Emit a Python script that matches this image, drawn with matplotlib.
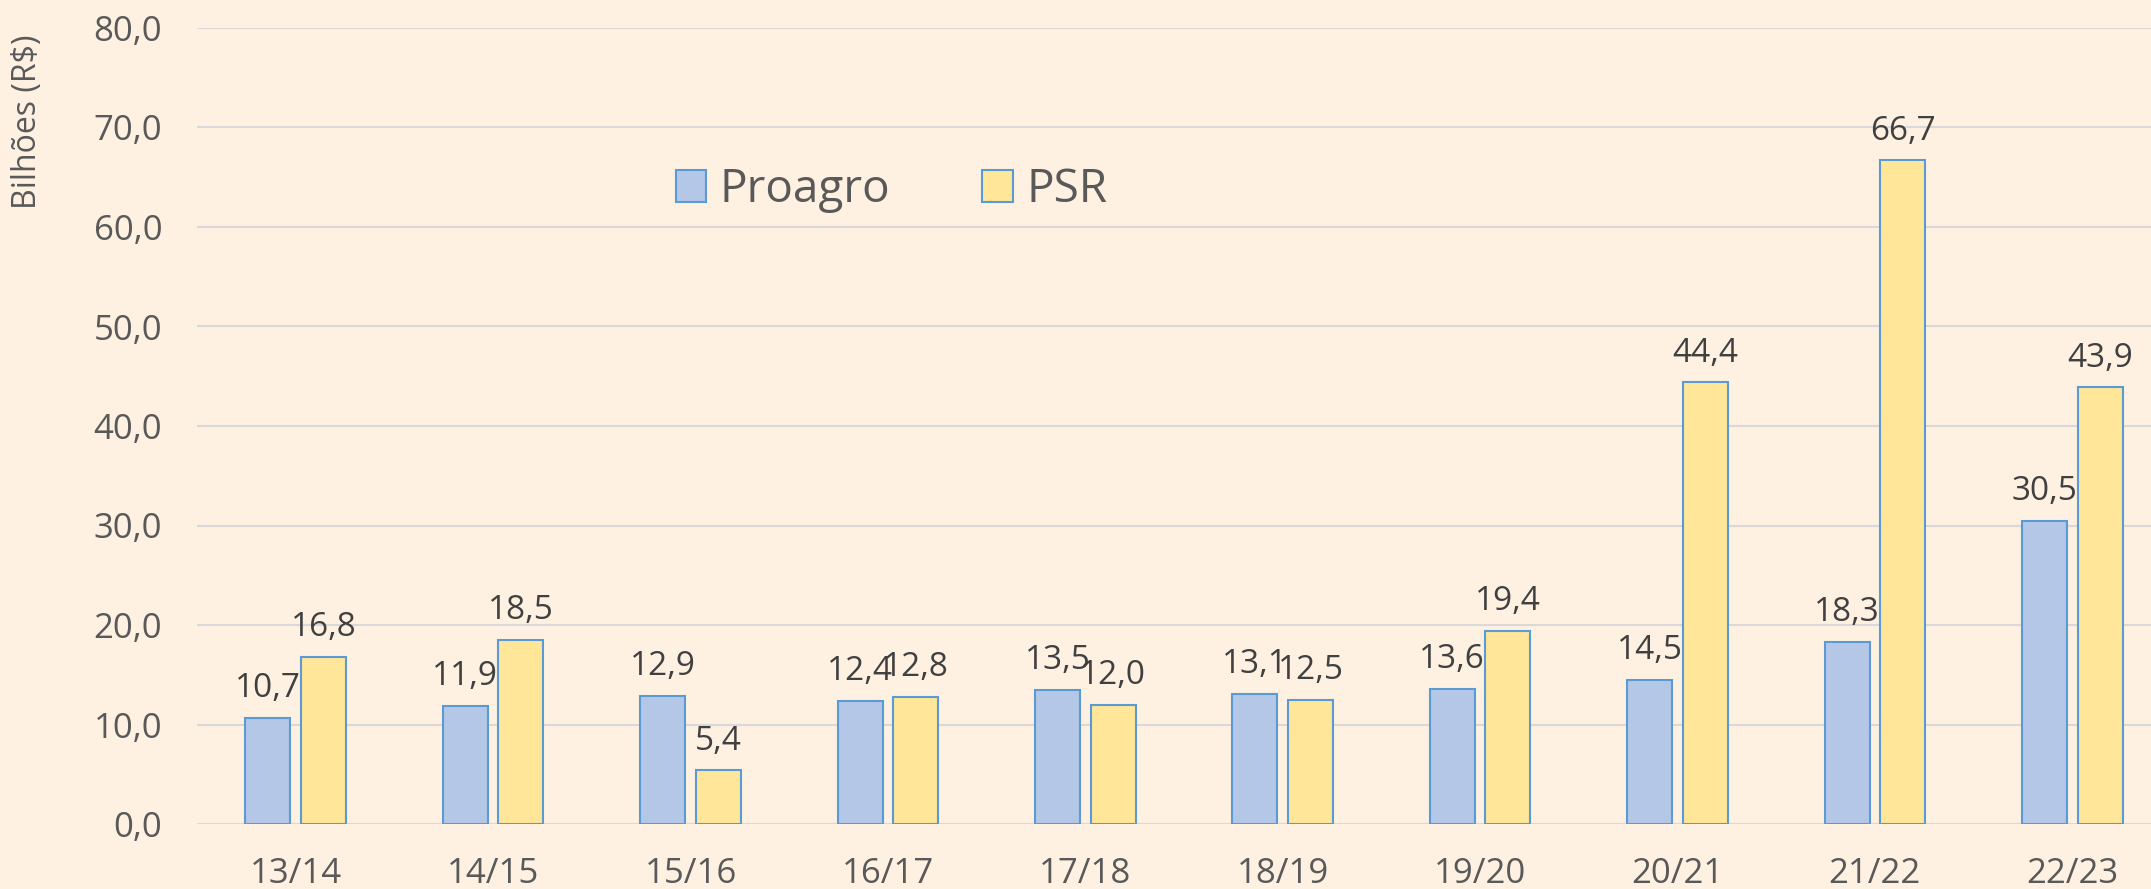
#=========================#
#  module                 #
#=========================#
import numpy as np
import matplotlib
matplotlib.use('Agg')
import matplotlib.pyplot as plt

plt.rcParams['font.family'] = ['Open Sans', 'DejaVu Sans']

#=========================#
#  data                   #
#=========================#
safras  = ['13/14', '14/15', '15/16', '16/17', '17/18', '18/19', '19/20', '20/21', '21/22', '22/23']
proagro = [10.7, 11.9, 12.9, 12.4, 13.5, 13.1, 13.6, 14.5, 18.3, 30.5]
psr     = [16.8, 18.5, 5.4, 12.8, 12.0, 12.5, 19.4, 44.4, 66.7, 43.9]
yticks  = [0, 10, 20, 30, 40, 50, 60, 70, 80]

#=========================#
#  figure                 #
#=========================#
bg = '#FEF1E2'
fig = plt.figure(figsize=(21.51, 8.89), dpi=100, facecolor=bg)
ax = fig.add_axes([197/2151, 65/889, 1 - 197/2151, (824-28)/889], facecolor=bg)

x = np.arange(len(safras))
w = 0.228
off = 0.141
b1 = ax.bar(x - off, proagro, w, color='#B4C7E7', edgecolor='#5B9BD5', linewidth=1.5, label='Proagro')
b2 = ax.bar(x + off, psr, w, color='#FFE699', edgecolor='#5B9BD5', linewidth=1.5, label='PSR')

# data labels
for bars, vals in ((b1, proagro), (b2, psr)):
    for r, v in zip(bars, vals):
        ax.annotate('{:.1f}'.format(v).replace('.', ','),
                    (r.get_x() + r.get_width()/2, v), xytext=(0, 9), textcoords='offset points',
                    ha='center', va='bottom', fontsize=24, color='#404040')

# lim
ax.set_xlim(-0.5, 9.399)
ax.set_ylim(0, 80)

# ticks
ax.set_xticks(x)
ax.set_xticklabels(safras)
ax.set_yticks(yticks)
ax.set_yticklabels(['{:.1f}'.format(t).replace('.', ',') for t in yticks])
ax.tick_params(axis='x', length=0, pad=24, labelsize=25, labelcolor='#595959')
ax.tick_params(axis='y', length=0, pad=25, labelsize=25, labelcolor='#595959')

# label
fig.text(28/2151, 1 - 122/889, 'Bilhões (R$)', rotation=90, ha='center', va='center',
         fontsize=23, color='#595959')

# grid
ax.grid(axis='y', color='#D9D9D9', linewidth=1.5)
ax.set_axisbelow(True)
for s in ax.spines.values():
    s.set_visible(False)

# legend
fig.legend(handles=[b1, b2], loc='center left', bbox_to_anchor=(676/2151, 1 - 190/889),
           ncol=2, frameon=False, fontsize=33, labelcolor='#595959',
           handlelength=0.66, handleheight=0.7, handletextpad=0.3, columnspacing=2.0,
           borderpad=0, borderaxespad=0)

# save
fig.savefig('out.png', dpi=100, facecolor=bg)
plt.close()
